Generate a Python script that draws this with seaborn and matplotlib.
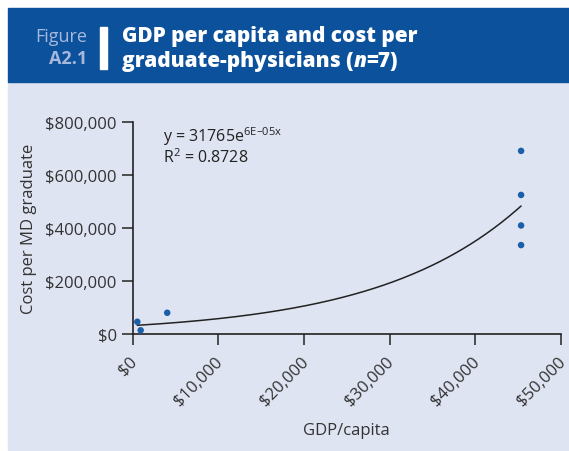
import numpy as np
import pandas as pd
import seaborn as sns
import matplotlib.pyplot as plt
from matplotlib.patches import Rectangle
from matplotlib.ticker import FuncFormatter
from matplotlib.transforms import ScaledTranslation

# data
gdp_per_capita = [540, 930, 4030, 45340, 45340, 45340, 45340]
cost_per_graduate = [46000, 14000, 80000, 690000, 524000, 409000, 335000]

# trendline coefficients as printed on the chart
trend_a = 31765
trend_b = 6e-05

x_ticks = [0, 10000, 20000, 30000, 40000, 50000]
y_ticks = [0, 200000, 400000, 600000, 800000]

data = pd.DataFrame({"gdp": gdp_per_capita, "cost": cost_per_graduate})
xs = np.linspace(min(gdp_per_capita), max(gdp_per_capita), 200)
trend = pd.DataFrame({"gdp": xs, "cost": trend_a * np.exp(trend_b * xs)})

sns.set_style("ticks")
plt.rcParams["font.family"] = ["Open Sans", "DejaVu Sans"]
plt.rcParams["mathtext.default"] = "regular"

W, H = 569, 452
fig = plt.figure(figsize=(W / 100, H / 100), dpi=100)
fig.patch.set_facecolor("white")

# light panel and dark header band
fig.patches.append(Rectangle((8 / W, 1 - 451 / H), 1, (451 - 83) / H,
                             transform=fig.transFigure, color="#dfe4f2", zorder=0))
fig.patches.append(Rectangle((8 / W, 1 - 83 / H), 1, (83 - 9) / H,
                             transform=fig.transFigure, color="#0b519b", zorder=0))
fig.patches.append(Rectangle((100 / W, 1 - 70 / H), 7 / W, 42 / H,
                             transform=fig.transFigure, color="white", zorder=1))

ax = fig.add_axes([132.7 / W, 1 - 335 / H, (561 - 132.7) / W, (335 - 122.7) / H])
ax.set_zorder(2)
ax.set_facecolor("none")

fig.text(87 / W, 1 - 42 / H, "Figure", color="#a7b8dc", fontsize=13, ha="right")
fig.text(87 / W, 1 - 64 / H, "A2.1", color="#a7b8dc", fontsize=13,
         fontweight="bold", ha="right")
title_kw = dict(color="white", fontsize=15, fontweight="heavy", va="bottom")
fig.text(122 / W, 1 - 47 / H, "GDP per capita and cost per", **title_kw)
t1 = fig.text(122 / W, 1 - 72 / H, "graduate-physicians (", **title_kw)
t2 = ax.annotate("n", xy=(1, 0), xycoords=t1, style="italic",
                 annotation_clip=False, **title_kw)
ax.annotate("=7)", xy=(1, 0), xycoords=t2, annotation_clip=False, **title_kw)

sns.scatterplot(data=data, x="gdp", y="cost", ax=ax, color="#1b5fa9",
                s=22, edgecolor="none", zorder=3)
sns.lineplot(data=trend, x="gdp", y="cost", ax=ax, color="#222222", linewidth=1.1)

ax.set_xlim(0, 50000)
ax.set_ylim(0, 800000)
ax.set_xticks(x_ticks)
ax.set_yticks(y_ticks)
money = FuncFormatter(lambda v, p: f"${v:,.0f}")
ax.xaxis.set_major_formatter(money)
ax.yaxis.set_major_formatter(money)
ax.tick_params(axis="both", labelsize=12, colors="#333333", length=8, width=1.2)
ax.tick_params(axis="x", pad=10)
shift = ScaledTranslation(2 / 100, 0, fig.dpi_scale_trans)
for lab in ax.get_xticklabels():
    lab.set_rotation(45)
    lab.set_ha("right")
    lab.set_va("center")
    lab.set_rotation_mode("anchor")
    lab.set_transform(lab.get_transform() + shift)
for s in ["left", "bottom"]:
    ax.spines[s].set_color("#222222")
    ax.spines[s].set_linewidth(1.2)
sns.despine(ax=ax)

ax.set_xlabel("GDP/capita", fontsize=12, color="#333333", labelpad=10)
ax.set_ylabel("Cost per MD graduate", fontsize=12, color="#333333", labelpad=6)

ax.text(3500, 790000, "y = 31765e$^{6E\u201305x}$", fontsize=11.5, color="#222222", va="top")
ax.text(3500, 705000, "R$^2$ = 0.8728", fontsize=11.5, color="#222222", va="top")

fig.savefig("out.png", dpi=100)
